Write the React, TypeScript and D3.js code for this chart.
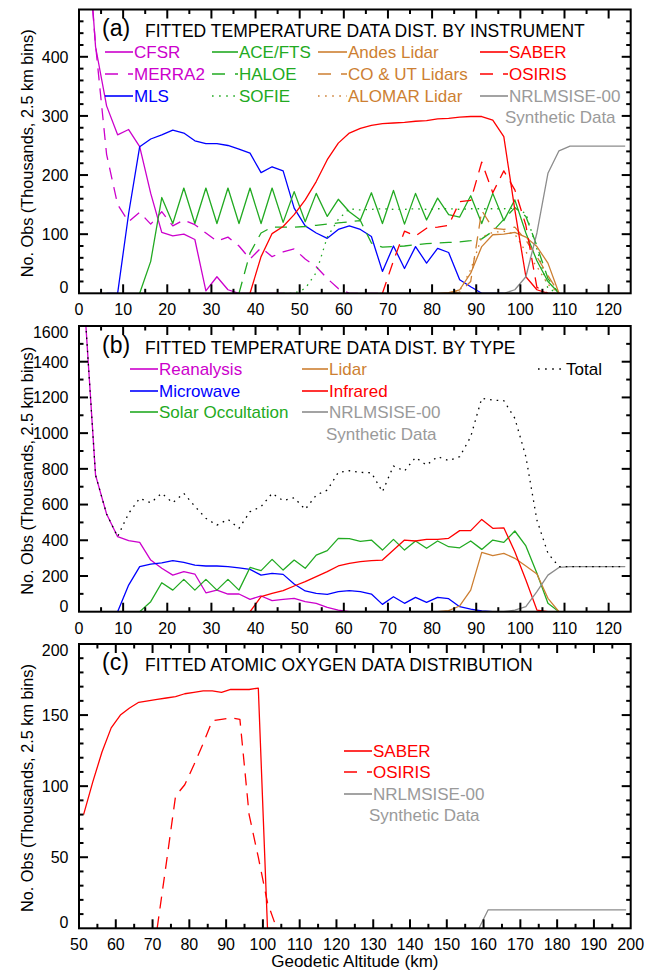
import React from "react";
import * as d3 from "d3";

// ---------- DATA ----------
// altitude bin centres (km), 2.5 km bins
const altBins = [1.25, 3.75, 6.25, 8.75, 11.25, 13.75, 16.25, 18.75, 21.25, 23.75, 26.25, 28.75, 31.25, 33.75, 36.25, 38.75, 41.25, 43.75, 46.25, 48.75, 51.25, 53.75, 56.25, 58.75, 61.25, 63.75, 66.25, 68.75, 71.25, 73.75, 76.25, 78.75, 81.25, 83.75, 86.25, 88.75, 91.25, 93.75, 96.25, 98.75, 101.25, 103.75, 106.25, 108.75, 111.25, 113.75, 116.25, 118.75, 121.25, 123.75];
const altBinsC = [51.25, 53.75, 56.25, 58.75, 61.25, 63.75, 66.25, 68.75, 71.25, 73.75, 76.25, 78.75, 81.25, 83.75, 86.25, 88.75, 91.25, 93.75, 96.25, 98.75, 101.25, 103.75, 106.25, 108.75, 111.25, 113.75, 116.25, 118.75, 121.25, 123.75, 126.25, 128.75, 131.25, 133.75, 136.25, 138.75, 141.25, 143.75, 146.25, 148.75, 151.25, 153.75, 156.25, 158.75, 161.25, 163.75, 166.25, 168.75, 171.25, 173.75, 176.25, 178.75, 181.25, 183.75, 186.25, 188.75, 191.25, 193.75, 196.25, 198.75];

// Panel (a): by instrument (thousands of obs); each series starts at the given altitude
const cfsrFrom = 1.25;
const cfsr = [680, 417, 317, 268, 277, 248, 169, 103, 97, 100, 91, 4, 28, 6, 0, 0, 0, 0, 0];
const merra2From = 1.25;
const merra2 = [650, 420, 235, 150, 121, 137, 117, 138, 114, 124, 116, 102, 88, 95, 80, 58, 77, 62, 70, 75, 58, 45, 25, 8, 0, 0, 0, 0];
const mlsFrom = 6.25;
const mls = [0, 0, 135, 248, 261, 268, 276, 271, 258, 253, 253, 250, 244, 237, 204, 214, 207, 144, 114, 102, 93, 108, 114, 108, 96, 37, 80, 42, 79, 51, 76, 69, 23, 11, 0, 0, 0];
const aceFrom = 13.75;
const ace = [0, 54, 162, 118, 178, 118, 178, 118, 178, 118, 178, 118, 178, 120, 172, 121, 169, 130, 159, 138, 124, 170, 118, 174, 117, 169, 124, 161, 133, 129, 165, 118, 169, 123, 158, 102, 55, 20, 0];
const haloeFrom = 36.25;
const haloe = [0, 68, 102, 112, 112, 112, 113, 115, 117, 119, 121, 123, 85, 78, 79, 80, 82, 84, 85, 86, 87, 89, 92, 105, 125, 145, 130, 80, 25, 0];
const sofieFrom = 46.25;
const sofie = [0, 0, 8, 35, 95, 125, 143, 141, 142, 143, 142, 142, 143, 142, 143, 143, 142, 143, 143, 143, 143, 144, 135, 75, 8, 0];
const andesFrom = 76.25;
const andes = [0, 0, 0, 1, 6, 34, 79, 99, 100, 103, 95, 79, 51, 0];
const coUtFrom = 83.75;
const coUt = [0, 2, 20, 140, 110, 108, 112, 90, 62, 30, 0];
const alomarFrom = 83.75;
const alomar = [0, 4, 40, 95, 103, 105, 100, 70, 45, 15, 0];
const saberFrom = 38.75;
const saber = [0, 62, 101, 113, 133, 158, 189, 226, 254, 271, 279, 284, 287, 288, 289, 291, 292, 295, 296, 298, 299, 299, 293, 265, 141, 28, 6, 0, 0];
const osirisFrom = 68.75;
const osiris = [0, 55, 105, 97, 110, 112, 115, 155, 157, 222, 170, 207, 175, 115, 10, 0];
const msisAFrom = 88.75;
const msisA = [0, 0, 0, 0, 6, 28, 102, 203, 241, 249, 249, 249, 249, 249, 249];

// Panel (b): by type
const reanalysisFrom = 1.25;
const reanalysis = [1720, 765, 547, 420, 398, 388, 289, 243, 205, 224, 211, 106, 121, 99, 99, 69, 88, 62, 69, 75, 56, 47, 24, 9, 0, 0, 0, 0, 0];
const microwaveFrom = 6.25;
const microwave = [0, 0, 149, 252, 267, 274, 286, 276, 261, 256, 256, 252, 246, 237, 205, 215, 209, 155, 116, 103, 97, 112, 118, 112, 99, 41, 84, 47, 80, 52, 80, 73, 28, 15, 4, 0, 0];
const solarFrom = 13.75;
const solar = [0, 56, 162, 121, 181, 121, 181, 121, 181, 121, 248, 230, 293, 233, 289, 243, 317, 342, 411, 409, 394, 401, 345, 405, 345, 396, 355, 396, 364, 358, 396, 349, 401, 388, 452, 368, 215, 47, 0];
const lidarFrom = 76.25;
const lidar = [0, 0, 0, 6, 32, 121, 332, 314, 327, 299, 256, 211, 75, 0];
const infraredFrom = 38.75;
const infrared = [0, 84, 103, 118, 144, 168, 196, 224, 256, 271, 280, 286, 289, 345, 401, 396, 405, 405, 411, 454, 454, 517, 467, 470, 336, 177, 9, 0, 0];
const msisBFrom = 88.75;
const msisB = [0, 0, 0, 0, 9, 28, 112, 205, 248, 252, 252, 252, 252, 252, 252];
const totalFrom = 1.25;
const total = [1720, 765, 547, 420, 551, 635, 610, 663, 610, 663, 590, 523, 485, 517, 467, 560, 588, 663, 622, 638, 573, 653, 681, 780, 790, 780, 778, 672, 816, 788, 864, 821, 868, 846, 868, 980, 1195, 1185, 1182, 1083, 868, 513, 327, 252, 252, 252, 252, 252, 252, 252];

// Panel (c): atomic oxygen
const saberOFrom = 51.25;
const saberO = [80, 103, 124, 141, 150, 155, 159, 160, 161, 162, 163, 165, 166, 167, 167, 166, 168, 168, 168, 169, 0, 0];
const osirisOFrom = 71.25;
const osirisO = [0, 46, 93, 101, 115, 130, 146, 147, 148, 147, 80, 50, 18, 0];
const msisCFrom = 158.75;
const msisC = [0, 13, 13, 13, 13, 13, 13, 13, 13, 13, 13, 13, 13, 13, 13, 13, 13];

// axis tick labels
const xTickLabelsAB = ["0", "10", "20", "30", "40", "50", "60", "70", "80", "90", "100", "110", "120"];
const xTickLabelsC = ["50", "60", "70", "80", "90", "100", "110", "120", "130", "140", "150", "160", "170", "180", "190", "200"];
const yTickLabelsA = ["0", "100", "200", "300", "400"];
const yTickLabelsB = ["0", "200", "400", "600", "800", "1000", "1200", "1400", "1600"];
const yTickLabelsC = ["0", "50", "100", "150", "200"];

// ---------- STYLE ----------
const FONT = "'Liberation Sans', Arial, Helvetica, sans-serif";
const MAG = "#cc00cc";
const GRN = "#22aa22";
const BLU = "#0000ff";
const ORG = "#cd7f32";
const RED = "#ff0000";
const GRYL = "#8c8c8c";
const GRYT = "#9a9a9a";
const DASH = "12,8";
const DOT = "1.6,5";
const LDASH = "13,10";
const LDOT = "1.6,5.5";
const X_LEFT = 79;
const X_RIGHT = 630.7;

type Pt = [number, number];
function pts(bins: number[], from: number, vals: number[]): Pt[] {
  const i0 = bins.indexOf(from);
  return vals.map((v, j) => [bins[i0 + j], v] as Pt);
}

type S = { data: Pt[]; color: string; dash?: string };

function Panel(props: {
  id: string;
  top: number;
  bottom: number;
  xDom: [number, number];
  yDom: [number, number];
  xMinorStep: number;
  yMinorStep: number;
  xLabels: string[];
  yLabels: string[];
  series: S[];
  tag: string;
  title: string;
  titleY: number;
}) {
  const { id, top, bottom, xDom, yDom, xMinorStep, yMinorStep, xLabels, yLabels, series, tag, title, titleY } = props;
  const x = d3.scaleLinear().domain(xDom).range([X_LEFT, X_RIGHT]);
  const y = d3.scaleLinear().domain(yDom).range([bottom, top]);
  const line = d3.line<Pt>().x((d) => x(d[0])).y((d) => y(d[1]));
  const xMajorVals = xLabels.map(Number);
  const yMajorVals = yLabels.map(Number);
  const xMinorVals = d3.range(xDom[0], xDom[1] + 1e-6, xMinorStep).filter((v) => !xMajorVals.some((m) => Math.abs(m - v) < 1e-6));
  const yMinorVals = d3.range(yDom[0], yDom[1] + 1e-6, yMinorStep).filter((v) => !yMajorVals.some((m) => Math.abs(m - v) < 1e-6));
  const MAJ = 9;
  const MIN = 4.5;
  const ticks: JSX.Element[] = [];
  const addX = (v: number, len: number, k: string) => {
    const px = x(v);
    if (px <= X_LEFT + 0.5 || px >= X_RIGHT - 0.5) return;
    ticks.push(<line key={"xb" + k} x1={px} x2={px} y1={bottom} y2={bottom - len} />);
    ticks.push(<line key={"xt" + k} x1={px} x2={px} y1={top} y2={top + len} />);
  };
  const addY = (v: number, len: number, k: string) => {
    const py = y(v);
    if (py >= bottom - 0.5 || py <= top + 0.5) return;
    ticks.push(<line key={"yl" + k} x1={X_LEFT} x2={X_LEFT + len} y1={py} y2={py} />);
    ticks.push(<line key={"yr" + k} x1={X_RIGHT} x2={X_RIGHT - len} y1={py} y2={py} />);
  };
  xMajorVals.forEach((v, i) => addX(v, MAJ, "M" + i));
  xMinorVals.forEach((v, i) => addX(v, MIN, "m" + i));
  yMajorVals.forEach((v, i) => addY(v, MAJ, "M" + i));
  yMinorVals.forEach((v, i) => addY(v, MIN, "m" + i));

  return (
    <g>
      <defs>
        <clipPath id={"clip" + id}>
          <rect x={X_LEFT} y={top} width={X_RIGHT - X_LEFT} height={bottom - top} />
        </clipPath>
      </defs>
      <g clipPath={`url(#clip${id})`}>
        {series.map((s, i) => (
          <path key={i} d={line(s.data) || ""} fill="none" stroke={s.color} strokeWidth={1.3} strokeDasharray={s.dash} strokeLinejoin="round" />
        ))}
      </g>
      <g stroke="#000" strokeWidth={2}>{ticks}</g>
      <rect x={X_LEFT} y={top} width={X_RIGHT - X_LEFT} height={bottom - top} fill="none" stroke="#000" strokeWidth={2} />
      <g fontFamily={FONT} fontSize={16} fill="#000">
        {xLabels.map((t, i) => (
          <text key={"xl" + i} x={x(xMajorVals[i])} y={bottom + 22} textAnchor="middle">{t}</text>
        ))}
        {yLabels.map((t, i) => {
          const v = yMajorVals[i];
          let by = y(v) + 5.8;
          if (v === yDom[0]) by = y(v);
          if (v === yDom[1]) by = y(v) + 11.8;
          return <text key={"yl" + i} x={68.5} y={by} textAnchor="end">{t}</text>;
        })}
      </g>
      <text transform={`translate(33,${(top + bottom) / 2 + 2}) rotate(-90)`} textAnchor="middle" fontFamily={FONT} fontSize={16.3}>
        No. Obs (Thousands, 2.5 km bins)
      </text>
      <text x={102} y={titleY - 1} fontFamily={FONT} fontSize={23}>{tag}</text>
      <text x={145} y={titleY} fontFamily={FONT} fontSize={17.5}>{title}</text>
    </g>
  );
}

function Leg(props: { x1: number; x2: number; y: number; color: string; dash?: string; text: string; textColor?: string }) {
  const { x1, x2, y, color, dash, text, textColor } = props;
  return (
    <g>
      <line x1={x1} x2={x2} y1={y - 6} y2={y - 6} stroke={color} strokeWidth={1.6} strokeDasharray={dash} />
      <text x={x2 + 1} y={y} fontFamily={FONT} fontSize={17} fill={textColor || color}>{text}</text>
    </g>
  );
}

function Txt(props: { x: number; y: number; text: string; color: string }) {
  return <text x={props.x} y={props.y} fontFamily={FONT} fontSize={17} fill={props.color}>{props.text}</text>;
}

export default function App() {
  const seriesA: S[] = [
    { data: pts(altBins, cfsrFrom, cfsr), color: MAG },
    { data: pts(altBins, merra2From, merra2), color: MAG, dash: DASH },
    { data: pts(altBins, mlsFrom, mls), color: BLU },
    { data: pts(altBins, aceFrom, ace), color: GRN },
    { data: pts(altBins, haloeFrom, haloe), color: GRN, dash: DASH },
    { data: pts(altBins, sofieFrom, sofie), color: GRN, dash: DOT },
    { data: pts(altBins, andesFrom, andes), color: ORG },
    { data: pts(altBins, coUtFrom, coUt), color: ORG, dash: DASH },
    { data: pts(altBins, alomarFrom, alomar), color: ORG, dash: DOT },
    { data: pts(altBins, saberFrom, saber), color: RED },
    { data: pts(altBins, osirisFrom, osiris), color: RED, dash: DASH },
    { data: pts(altBins, msisAFrom, msisA), color: GRYL },
  ];
  const seriesB: S[] = [
    { data: pts(altBins, reanalysisFrom, reanalysis), color: MAG },
    { data: pts(altBins, microwaveFrom, microwave), color: BLU },
    { data: pts(altBins, solarFrom, solar), color: GRN },
    { data: pts(altBins, lidarFrom, lidar), color: ORG },
    { data: pts(altBins, infraredFrom, infrared), color: RED },
    { data: pts(altBins, msisBFrom, msisB), color: GRYL },
    { data: pts(altBins, totalFrom, total), color: "#000", dash: DOT },
  ];
  const seriesC: S[] = [
    { data: pts(altBinsC, saberOFrom, saberO), color: RED },
    { data: pts(altBinsC, osirisOFrom, osirisO), color: RED, dash: DASH },
    { data: pts(altBinsC, msisCFrom, msisC), color: GRYL },
  ];

  return (
    <div>
      <style>{"body{margin:0;background:#fff}"}</style>
      <svg width={646} height={974} style={{ display: "block", background: "#fff" }}>
        <Panel id="a" top={9.5} bottom={293.3} xDom={[0, 125]} yDom={[0, 480]} xMinorStep={5} yMinorStep={20}
          xLabels={xTickLabelsAB} yLabels={yTickLabelsA} series={seriesA}
          tag="(a)" title="FITTED TEMPERATURE DATA DIST. BY INSTRUMENT" titleY={37} />
        <Leg x1={105} x2={133} y={58} color={MAG} text="CFSR" />
        <Leg x1={105} x2={133} y={80} color={MAG} dash={LDASH} text="MERRA2" />
        <Leg x1={105} x2={133} y={102} color={BLU} text="MLS" />
        <Leg x1={212} x2={238} y={58} color={GRN} text="ACE/FTS" />
        <Leg x1={212} x2={238} y={80} color={GRN} dash={LDASH} text="HALOE" />
        <Leg x1={212} x2={238} y={102} color={GRN} dash={LDOT} text="SOFIE" />
        <Leg x1={318} x2={347} y={58} color={ORG} text="Andes Lidar" />
        <Leg x1={318} x2={347} y={80} color={ORG} dash={LDASH} text="CO & UT Lidars" />
        <Leg x1={318} x2={347} y={102} color={ORG} dash={LDOT} text="ALOMAR Lidar" />
        <Leg x1={480} x2={508} y={58} color={RED} text="SABER" />
        <Leg x1={480} x2={508} y={80} color={RED} dash={LDASH} text="OSIRIS" />
        <Leg x1={480} x2={508} y={102} color={GRYL} textColor={GRYT} text="NRLMSISE-00" />
        <Txt x={505} y={123} text="Synthetic Data" color={GRYT} />

        <Panel id="b" top={326} bottom={611.7} xDom={[0, 125]} yDom={[0, 1600]} xMinorStep={5} yMinorStep={100}
          xLabels={xTickLabelsAB} yLabels={yTickLabelsB} series={seriesB}
          tag="(b)" title="FITTED TEMPERATURE DATA DIST. BY TYPE" titleY={354} />
        <Leg x1={130} x2={158} y={375} color={MAG} text="Reanalysis" />
        <Leg x1={130} x2={158} y={397} color={BLU} text="Microwave" />
        <Leg x1={130} x2={158} y={418} color={GRN} text="Solar Occultation" />
        <Leg x1={302} x2={328} y={375} color={ORG} text="Lidar" />
        <Leg x1={302} x2={328} y={397} color={RED} text="Infrared" />
        <Leg x1={302} x2={328} y={418} color={GRYL} textColor={GRYT} text="NRLMSISE-00" />
        <Txt x={326} y={440} text="Synthetic Data" color={GRYT} />
        <Leg x1={538} x2={565} y={375} color="#000" dash={LDOT} text="Total" />

        <Panel id="c" top={644} bottom={928.3} xDom={[50, 200]} yDom={[0, 200]} xMinorStep={5} yMinorStep={10}
          xLabels={xTickLabelsC} yLabels={yTickLabelsC} series={seriesC}
          tag="(c)" title="FITTED ATOMIC OXYGEN DATA DISTRIBUTION" titleY={671} />
        <Leg x1={344} x2={372} y={757} color={RED} text="SABER" />
        <Leg x1={344} x2={372} y={778} color={RED} dash={LDASH} text="OSIRIS" />
        <Leg x1={344} x2={372} y={800} color={GRYL} textColor={GRYT} text="NRLMSISE-00" />
        <Txt x={369} y={821} text="Synthetic Data" color={GRYT} />

        <text x={(X_LEFT + X_RIGHT) / 2} y={967} textAnchor="middle" fontFamily={FONT} fontSize={17}>Geodetic Altitude (km)</text>
      </svg>
    </div>
  );
}
